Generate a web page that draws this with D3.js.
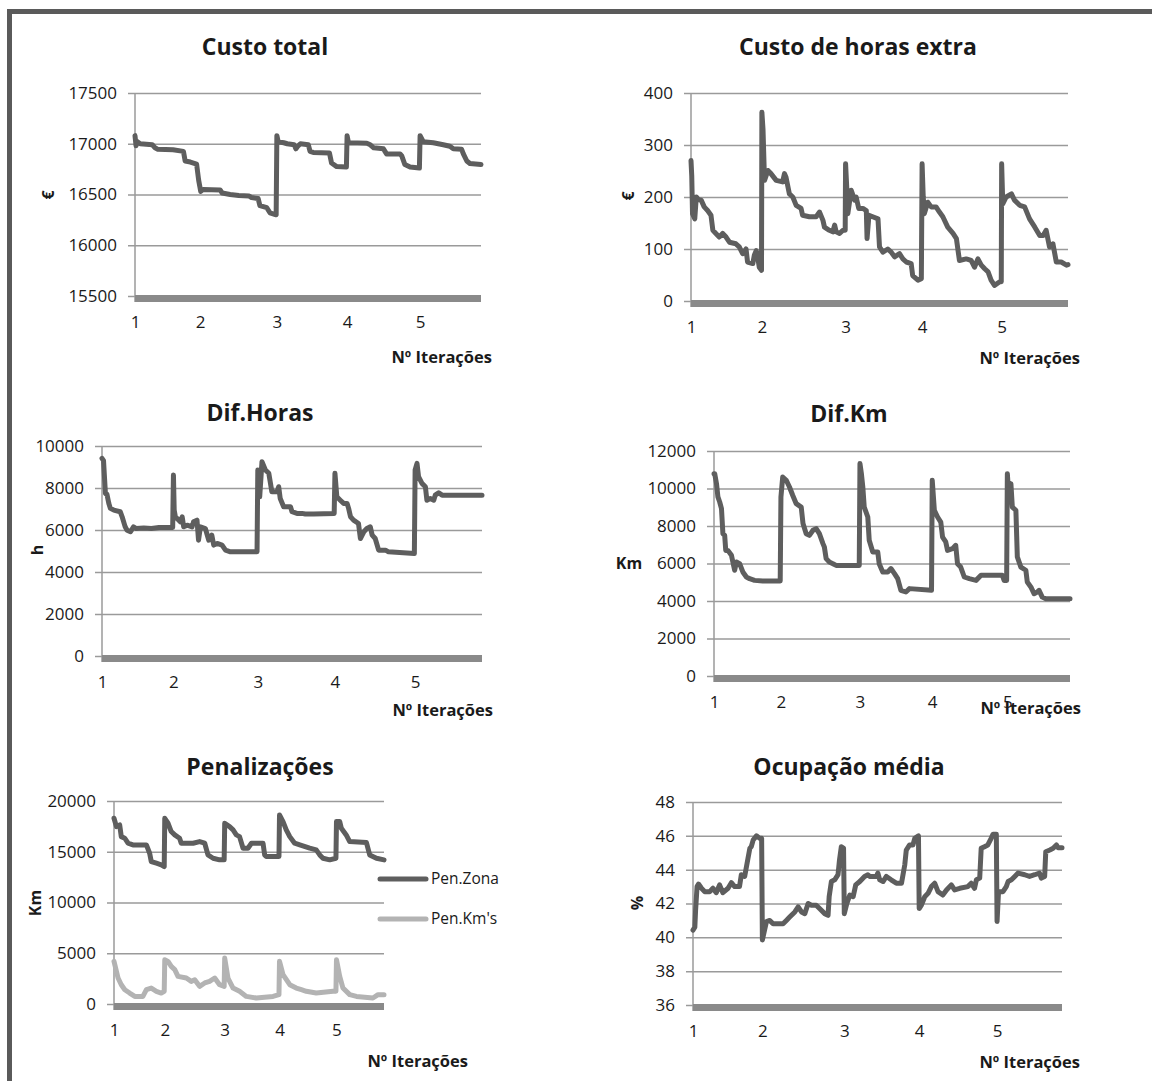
<!DOCTYPE html>
<html>
<head>
<meta charset="utf-8">
<script src="https://cdn.jsdelivr.net/npm/d3@7"></script>
<style>
body { margin: 0; background: #fff; }
text { font-family: "Open Sans", sans-serif; fill: #1a1a1a; }
</style>
</head>
<body>
<div id="root"></div>
<script>
var width = 1152;
var height = 1081;

// iteration index (0..1000) where each run starts
var nIter = 1000;
var runStarts = [0, 188, 410, 613, 824];
var runLabels = ["1", "2", "3", "4", "5"];

// [iteration, value]
var custoTotal = [[0,17080],[3,16980],[7,17020],[15,17000],[50,16990],[58,16960],[66,16945],[110,16940],[140,16925],[145,16830],[160,16820],[178,16800],[184,16640],[190,16530],[197,16550],[246,16545],[252,16515],[275,16500],[300,16490],[330,16485],[337,16470],[356,16460],[361,16390],[381,16370],[390,16320],[408,16300],[410,17080],[414,17020],[430,17010],[440,17000],[460,16990],[465,16950],[470,16975],[478,17000],[501,16990],[506,16925],[515,16915],[562,16910],[568,16810],[583,16775],[611,16770],[613,17080],[617,17010],[670,17005],[680,16990],[690,16960],[718,16950],[727,16900],[766,16900],[771,16880],[780,16795],[795,16770],[822,16760],[824,17080],[833,17020],[862,17010],[891,16990],[910,16975],[920,16950],[944,16945],[949,16900],[959,16830],[968,16805],[1000,16795]];

var custoHoras = [[0,270],[2,240],[4,168],[10,158],[14,200],[20,195],[27,194],[35,181],[44,174],[53,165],[58,136],[66,130],[75,123],[84,130],[93,123],[102,113],[119,110],[128,104],[137,91],[146,100],[150,75],[164,72],[168,88],[173,97],[177,85],[181,65],[187,59],[188,363],[191,330],[195,232],[204,251],[212,245],[226,232],[243,229],[248,245],[252,238],[261,206],[270,200],[279,184],[292,178],[296,165],[314,162],[332,162],[341,171],[350,155],[354,142],[367,136],[376,133],[381,146],[385,133],[394,130],[403,136],[409,136],[410,264],[413,220],[416,168],[425,213],[434,194],[438,200],[445,178],[456,178],[465,174],[467,120],[472,165],[482,162],[496,158],[500,104],[509,94],[522,100],[531,94],[540,85],[553,91],[562,81],[571,75],[584,72],[588,49],[602,40],[611,43],[613,264],[616,200],[619,168],[628,190],[637,181],[650,181],[659,171],[668,162],[681,142],[695,130],[704,120],[712,78],[730,81],[743,78],[752,65],[761,81],[770,69],[779,62],[788,56],[796,40],[805,30],[819,37],[823,37],[824,264],[827,187],[836,200],[850,206],[858,194],[872,184],[885,181],[898,158],[912,142],[925,126],[934,126],[942,136],[951,104],[960,110],[969,75],[982,75],[996,69],[1000,70]];

var difHoras = [[0,9410],[4,9300],[9,7740],[13,7700],[18,7265],[22,7030],[31,6950],[48,6870],[53,6630],[61,6150],[66,5990],[75,5915],[83,6150],[90,6070],[110,6100],[130,6070],[150,6120],[186,6120],[188,8620],[190,6950],[193,6630],[206,6390],[211,6630],[215,6150],[224,6230],[237,6150],[241,6390],[250,6470],[254,5515],[259,6150],[272,6070],[281,5515],[289,5755],[294,5280],[303,5360],[316,5280],[325,5040],[338,4960],[408,4960],[410,8860],[415,7580],[421,9250],[430,8860],[439,8700],[447,7820],[461,7820],[465,8060],[469,7500],[478,7110],[496,7110],[500,6870],[513,6790],[526,6790],[535,6760],[557,6760],[611,6790],[613,8700],[618,7580],[627,7420],[636,7265],[645,7265],[649,7030],[654,6630],[662,6470],[675,6310],[680,5595],[689,5915],[697,6070],[706,6150],[711,5755],[719,5595],[728,5040],[746,5040],[754,4960],[822,4880],[824,8860],[829,9170],[833,8540],[842,8220],[851,8060],[855,7420],[864,7500],[873,7420],[877,7660],[886,7775],[895,7660],[912,7660],[1000,7660]];

var difKm = [[0,10790],[2,10790],[7,10260],[11,9550],[16,9280],[21,8930],[25,7590],[30,7500],[33,6700],[39,6700],[49,6440],[53,6080],[58,5640],[63,6080],[72,5990],[81,5550],[91,5280],[100,5190],[114,5100],[137,5070],[186,5070],[188,9550],[193,10610],[203,10440],[212,10080],[221,9640],[231,9190],[245,9010],[250,8130],[259,7590],[268,7500],[278,7770],[287,7860],[296,7590],[306,7060],[310,6880],[315,6260],[324,6080],[334,5990],[343,5900],[408,5900],[410,11330],[414,10800],[418,10080],[422,9010],[432,8480],[436,7240],[446,6610],[460,6610],[464,5990],[474,5550],[488,5550],[497,5730],[507,5460],[516,5190],[525,4570],[539,4480],[549,4660],[611,4570],[613,10440],[619,8840],[628,8480],[637,8210],[642,7410],[651,7150],[656,6700],[670,6790],[679,6970],[684,5990],[693,5810],[703,5280],[717,5190],[736,5100],[750,5370],[810,5370],[815,5100],[822,5100],[824,10790],[829,9370],[834,10260],[838,9010],[848,8840],[852,6350],[862,5810],[876,5640],[880,5010],[890,4750],[899,4390],[908,4480],[913,4570],[922,4210],[932,4120],[1000,4120]];

var penZona = [[0,18300],[9,17480],[21,17640],[27,16490],[40,16330],[52,15840],[70,15670],[120,15670],[132,14850],[138,14030],[157,13870],[175,13710],[186,13540],[188,18300],[200,17810],[212,16990],[225,16660],[243,16330],[249,15840],[293,15840],[317,16000],[336,15840],[348,14690],[367,14360],[391,14200],[408,14200],[410,17810],[428,17480],[441,17150],[453,16660],[465,16490],[478,15350],[496,15350],[509,15840],[552,15840],[558,14690],[564,14530],[611,14530],[613,18620],[626,17970],[638,17150],[651,16490],[669,15840],[688,15670],[725,15350],[749,15180],[762,14690],[774,14360],[799,14200],[822,14360],[824,17970],[836,17970],[842,17310],[860,16660],[873,16000],[935,15900],[947,14690],[972,14360],[1000,14200]];

var penKm = [[0,4200],[15,2560],[27,1900],[40,1410],[58,1080],[77,750],[107,750],[120,1410],[138,1570],[157,1250],[175,1080],[186,1250],[188,4360],[200,4200],[212,3700],[225,3380],[237,2720],[268,2560],[286,2230],[299,2390],[317,1740],[336,2070],[354,2230],[373,2560],[391,1900],[408,1740],[410,4520],[422,2560],[441,1570],[465,1250],[490,750],[527,590],[589,750],[611,920],[613,4200],[626,2890],[651,1900],[675,1570],[694,1410],[712,1250],[749,1080],[811,1250],[822,1250],[824,4360],[836,2720],[848,1570],[873,920],[898,750],[959,590],[978,920],[1000,920]];

var ocupacao = [[0,40.43],[5,40.6],[7,41.6],[11,43.0],[15,43.15],[23,42.9],[32,42.7],[45,42.7],[54,42.9],[63,42.64],[72,43.1],[81,42.64],[95,42.9],[104,43.23],[113,43.0],[126,43.0],[131,43.7],[140,43.6],[149,44.67],[154,45.26],[158,45.36],[163,45.75],[172,46.0],[181,45.85],[186,45.85],[188,39.84],[194,40.43],[199,40.93],[208,41.0],[217,40.8],[244,40.8],[253,41.0],[262,41.2],[276,41.5],[285,41.8],[294,41.5],[303,41.4],[312,42.0],[321,41.9],[334,41.9],[343,41.7],[357,41.4],[366,41.3],[369,42.4],[375,43.3],[384,43.4],[393,43.7],[397,44.57],[402,45.36],[408,45.26],[410,41.4],[417,42.0],[425,42.5],[434,42.4],[441,43.1],[452,43.3],[465,43.6],[474,43.7],[479,43.6],[497,43.6],[501,43.8],[506,43.4],[515,43.3],[524,43.6],[537,43.4],[551,43.2],[565,43.2],[574,44.3],[578,45.16],[587,45.46],[596,45.46],[601,45.85],[611,46.0],[613,41.7],[619,41.9],[628,42.4],[637,42.6],[646,43.0],[655,43.2],[664,42.7],[677,42.5],[687,42.8],[700,43.1],[709,42.8],[723,42.9],[745,43.0],[754,43.2],[763,42.9],[768,43.4],[777,43.5],[781,45.26],[790,45.36],[799,45.46],[808,45.85],[813,46.1],[822,46.1],[824,40.93],[828,42.7],[840,42.7],[849,43.0],[854,43.3],[863,43.4],[872,43.6],[881,43.8],[899,43.7],[912,43.6],[926,43.7],[939,43.8],[944,43.5],[953,43.6],[956,45.06],[967,45.16],[976,45.26],[985,45.46],[989,45.3],[1000,45.3]];

var seriesNames = ["Pen.Zona", "Pen.Km's"];

var dark = "#5e5e5e";
var light = "#b3b3b3";

// layout of each small chart
var panels = [
	{title: "Custo total", yLabel: "€", rotate: true, x0: 135, x1: 481, yTop: 93, yBot: 296, domain: [15500, 17500], step: 500,
	 titleX: 265, titleY: 47, labX: 48, labY: 195, itX: 492, itY: 357, series: [custoTotal]},
	{title: "Custo de horas extra", yLabel: "€", rotate: true, x0: 691, x1: 1068, yTop: 93, yBot: 301, domain: [0, 400], step: 100,
	 titleX: 858, titleY: 47, labX: 628, labY: 196, itX: 1080, itY: 358, series: [custoHoras]},
	{title: "Dif.Horas", yLabel: "h", rotate: true, x0: 102, x1: 482, yTop: 446, yBot: 656, domain: [0, 10000], step: 2000,
	 titleX: 260, titleY: 413, labX: 37, labY: 550, itX: 493, itY: 710, series: [difHoras]},
	{title: "Dif.Km", yLabel: "Km", rotate: false, x0: 714, x1: 1070, yTop: 451, yBot: 676, domain: [0, 12000], step: 2000,
	 titleX: 849, titleY: 414, labX: 629, labY: 563, itX: 1081, itY: 708, series: [difKm]},
	{title: "Penalizações", yLabel: "Km", rotate: true, x0: 114, x1: 384, yTop: 801, yBot: 1004, domain: [0, 20000], step: 5000,
	 titleX: 260, titleY: 767, labX: 35, labY: 903, itX: 468, itY: 1061, series: [penZona, penKm], legend: true},
	{title: "Ocupação média", yLabel: "%", rotate: true, x0: 693, x1: 1062, yTop: 802, yBot: 1005, domain: [36, 48], step: 2,
	 titleX: 849, titleY: 767, labX: 637, labY: 903, itX: 1080, itY: 1062, series: [ocupacao]}
];

var svg = d3.select("#root")
	.append("svg")
	.attr("width", width)
	.attr("height", height);

// outer frame (cut at right and bottom)
svg.append("path")
	.attr("d", "M9.5," + height + "V11.5H" + width)
	.attr("fill", "none")
	.attr("stroke", "#5a5a5a")
	.attr("stroke-width", 5);

panels.forEach(function(p) {
	var g = svg.append("g");

	var x = d3.scaleLinear().domain([0, nIter]).range([p.x0, p.x1]);
	var y = d3.scaleLinear().domain(p.domain).range([p.yBot, p.yTop]);
	var ticks = d3.range(p.domain[0], p.domain[1] + p.step / 2, p.step);

	// gridlines + y tick labels
	var yAxis = g.append("g")
		.attr("transform", "translate(" + (p.x0 - 7) + ",0)")
		.call(d3.axisLeft(y).tickValues(ticks).tickSize(-(p.x1 - p.x0 + 7)).tickPadding(11).tickFormat(d3.format("d")));
	yAxis.select(".domain").remove();
	yAxis.selectAll(".tick line").attr("stroke", "#9a9a9a").attr("stroke-width", 1.5);
	yAxis.selectAll(".tick text").attr("font-size", "17px").attr("font-family", "Open Sans").attr("fill", "#1a1a1a");

	// vertical axis line
	g.append("line")
		.attr("x1", p.x0).attr("x2", p.x0)
		.attr("y1", p.yTop).attr("y2", p.yBot + 6)
		.attr("stroke", "#9a9a9a")
		.attr("stroke-width", 1.5);

	// thick category axis
	g.append("rect")
		.attr("x", p.x0)
		.attr("y", p.yBot - 1)
		.attr("width", p.x1 - p.x0)
		.attr("height", 7)
		.attr("fill", "#8a8a8a");

	var xAxis = g.append("g")
		.attr("transform", "translate(0," + p.yBot + ")")
		.call(d3.axisBottom(x).tickValues(runStarts).tickSize(0).tickPadding(20)
			.tickFormat(function(d, i) { return runLabels[i]; }));
	xAxis.select(".domain").remove();
	xAxis.selectAll(".tick text").attr("font-size", "17px").attr("font-family", "Open Sans").attr("fill", "#1a1a1a");

	var line = d3.line()
		.x(function(d) { return x(d[0]); })
		.y(function(d) { return y(d[1]); });

	p.series.forEach(function(s, i) {
		g.append("path")
			.datum(s)
			.attr("fill", "none")
			.attr("stroke", i == 0 ? dark : light)
			.attr("stroke-width", 5)
			.attr("stroke-linejoin", "round")
			.attr("stroke-linecap", "round")
			.attr("d", line);
	});

	g.append("text")
		.attr("x", p.titleX)
		.attr("y", p.titleY + 8)
		.attr("text-anchor", "middle")
		.attr("font-size", "23px")
		.attr("font-weight", "bold")
		.text(p.title);

	var yl = g.append("text")
		.attr("text-anchor", "middle")
		.attr("font-size", "16px")
		.attr("font-weight", "bold")
		.text(p.yLabel);
	if (p.rotate) {
		yl.attr("transform", "translate(" + (p.labX + 6) + "," + p.labY + ") rotate(-90)");
	} else {
		yl.attr("x", p.labX).attr("y", p.labY + 6);
	}

	g.append("text")
		.attr("x", p.itX)
		.attr("y", p.itY + 6)
		.attr("text-anchor", "end")
		.attr("font-size", "16.5px")
		.attr("font-weight", "bold")
		.text("Nº Iterações");

	if (p.legend) {
		seriesNames.forEach(function(name, i) {
			var ly = 879 + i * 40;
			g.append("line")
				.attr("x1", 380).attr("x2", 426)
				.attr("y1", ly).attr("y2", ly)
				.attr("stroke", i == 0 ? dark : light)
				.attr("stroke-width", 5)
				.attr("stroke-linecap", "round");
			g.append("text")
				.attr("x", 431)
				.attr("y", ly + 5)
				.attr("font-size", "15.5px")
				.text(name);
		});
	}
});
</script>
</body>
</html>
